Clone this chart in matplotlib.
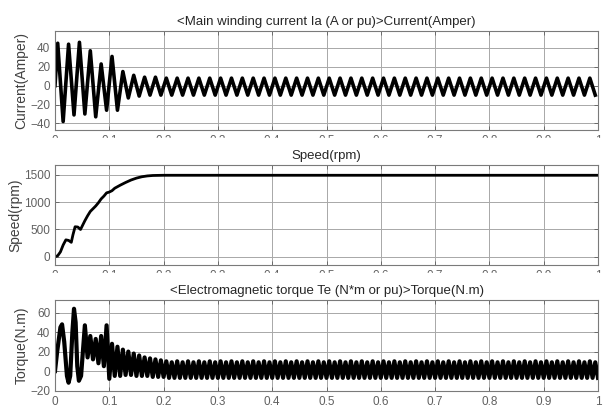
import matplotlib
matplotlib.use("Agg")
import matplotlib.pyplot as plt
import numpy as np
from matplotlib.patches import Rectangle


TITLES = [
    "<Main winding current Ia (A or pu)>Current(Amper)",
    "Speed(rpm)",
    "<Electromagnetic torque Te (N*m or pu)>Torque(N.m)",
]
YLABELS = ["Current(Amper)", "Speed(rpm)", "Torque(N.m)"]

X_TICKS = [0, 0.1, 0.2, 0.3, 0.4, 0.5, 0.6, 0.7, 0.8, 0.9, 1.0]
X_TICK_LABELS = ["0", "0.1", "0.2", "0.3", "0.4", "0.5", "0.6", "0.7", "0.8", "0.9", "1"]

# current: value at t=0, then one peak/trough every half cycle (50 Hz)
CURRENT_START = 0.0
CURRENT_EXTREMES = [
    45, -38, 44, -31, 46, -30, 37, -33, 23, -26, 31, -26, 15, -13, 11, -11,
    9, -10, 9, -10, 8, -10, 8, -10, 8, -10, 8, -10, 8, -10, 8, -10,
    8, -10, 8, -10, 8, -10, 8, -10, 8, -10, 8, -10, 8, -10, 8, -10,
    8, -10, 8, -10, 8, -10, 8, -10, 8, -10, 8, -10, 8, -10, 8, -10,
    8, -10, 8, -10, 8, -10, 8, -10, 8, -10, 8, -10, 8, -10, 8, -10,
    8, -10, 8, -10, 8, -10, 8, -10, 8, -10, 8, -10, 8, -10, 8, -10,
    8, -10, 8, -10,
]

SPEED_T = [0, 0.005, 0.010, 0.015, 0.020, 0.025, 0.030, 0.033, 0.037, 0.042,
           0.047, 0.050, 0.055, 0.060, 0.065, 0.070, 0.075, 0.080, 0.085, 0.090,
           0.095, 0.100, 0.105, 0.110, 0.120, 0.130, 0.140, 0.150, 0.160, 0.170,
           0.180, 0.200, 0.300, 0.400, 0.500, 0.600, 0.700, 0.800, 0.900, 1.000]
SPEED_RPM = [0, 20, 90, 215, 310, 300, 265, 400, 550, 545,
             500, 560, 660, 750, 830, 880, 930, 990, 1060, 1110,
             1170, 1185, 1210, 1255, 1310, 1360, 1405, 1440, 1465, 1480,
             1488, 1492, 1492, 1492, 1492, 1492, 1492, 1492, 1492, 1492]

# torque: start-up swings, then a peak/trough every 5 ms (100 Hz) from 0.06 s
TORQUE_START_T = [0, 0.004, 0.010, 0.013, 0.017, 0.022, 0.025, 0.028, 0.032,
                  0.035, 0.038, 0.041, 0.044, 0.048, 0.052, 0.055]
TORQUE_START_V = [0, 20, 45, 48, 30, -5, -12, -5, 40,
                  64, 50, 5, -10, -5, 25, 47]
TORQUE_RIPPLE = [
    14, 36, 12, 33, 8, 36, 5, 47, -8, 28, -5, 25, -5, 22, -4, 20, -4, 18, -5, 16,
    -5, 14, -5, 13, -6, 12, -6, 11, -6,
    10, -7, 9, -7, 10, -7, 9, -7, 10, -7, 9, -7, 10, -7, 9, -7, 10, -7, 9, -7,
    10, -7, 9, -7, 10, -7, 9, -7, 10, -7, 9, -7, 10, -7, 9, -7, 10, -7, 9, -7,
    10, -7, 9, -7, 10, -7, 9, -7, 10, -7, 9, -7, 10, -7, 9, -7, 10, -7, 9, -7,
    10, -7, 9, -7, 10, -7, 9, -7, 10, -7, 9, -7, 10, -7, 9, -7, 10, -7, 9, -7,
    10, -7, 9, -7, 10, -7, 9, -7, 10, -7, 9, -7, 10, -7, 9, -7, 10, -7, 9, -7,
    10, -7, 9, -7, 10, -7, 9, -7, 10, -7, 9, -7, 10, -7, 9, -7, 10, -7, 9, -7,
    10, -7, 9, -7, 10, -7, 9, -7, 10, -7, 9, -7, 10, -7, 9, -7, 10, -7, 9, -7,
    10, -7, 9, -7, 10, -7, 9, -7, 10, -7, 9, -7, 10, -7, 9, -7, 10, -7, 9, -7,
]

Y_TICKS = [[-40, -20, 0, 20, 40], [0, 500, 1000, 1500], [-20, 0, 20, 40, 60]]
Y_LIMS = [(-47, 58), (-150, 1680), (-20.5, 73)]

GRID = "#a8a8a8"
TICKC = "#606060"


def _style():
    plt.rcParams.update({
        "font.family": ["Liberation Sans", "DejaVu Sans"],
        "font.size": 8,
        "axes.linewidth": 0.8,
    })


def _axes(fig, rect, i):
    ax = fig.add_axes(rect)
    ax.set_xlim(0, 1)
    ax.set_ylim(*Y_LIMS[i])
    ax.set_xticks(X_TICKS)
    ax.set_xticklabels(X_TICK_LABELS)
    ax.set_yticks(Y_TICKS[i])
    ax.grid(True, color=GRID, linewidth=0.7)
    ax.set_axisbelow(True)
    ax.tick_params(direction="in", length=3, width=0.6, colors=TICKC,
                   labelsize=8.5, top=True, right=True, pad=3.5)
    for s in ax.spines.values():
        s.set_color("#7a7a7a")
    ax.set_title(TITLES[i], fontsize=9.5, color="#262626", pad=4)
    ax.set_ylabel(YLABELS[i], fontsize=10, color="#404040", labelpad=1)
    return ax


def main():
    _style()
    fig = plt.figure(figsize=(6.03, 4.05), dpi=100)
    W, H = 603.0, 405.0

    def rect(top, bottom):
        return [55 / W, 1 - bottom / H, 543 / W, (bottom - top) / H]

    ax1 = _axes(fig, rect(31, 130), 0)
    cur_t = np.concatenate([[0.0], np.arange(len(CURRENT_EXTREMES)) * 0.01 + 0.005])
    cur_v = [CURRENT_START] + CURRENT_EXTREMES
    ax1.plot(cur_t, cur_v, color="black", linewidth=2.6)

    ax2 = _axes(fig, rect(165, 265), 1)
    ax2.plot(SPEED_T, SPEED_RPM, color="black", linewidth=2.0)

    ax3 = _axes(fig, rect(300, 391), 2)
    rip_t = np.arange(len(TORQUE_RIPPLE)) * 0.005 + 0.06
    tq_t = np.concatenate([TORQUE_START_T, rip_t])
    tq_v = TORQUE_START_V + TORQUE_RIPPLE
    ax3.plot(tq_t, tq_v, color="black", linewidth=3.0)

    # the upper x tick labels are cut off in the original picture
    for top, bottom in [(137.5, 148), (272.5, 283)]:
        fig.add_artist(Rectangle((0, 1 - bottom / H), 1, (bottom - top) / H,
                                 transform=fig.transFigure, color="white", zorder=20))

    fig.savefig("out.png", dpi=100)
    plt.close(fig)


if __name__ == "__main__":
    main()
